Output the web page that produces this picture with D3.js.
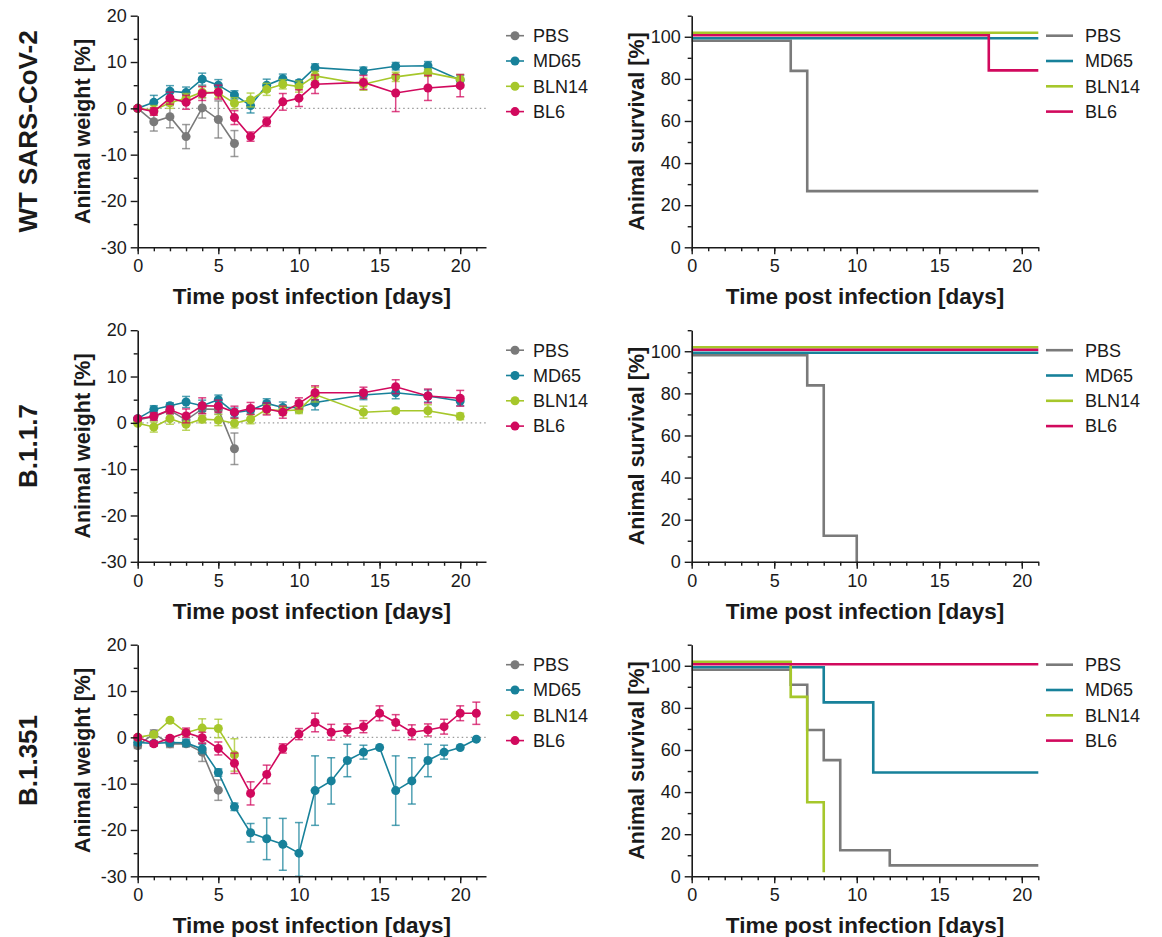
<!DOCTYPE html>
<html>
<head>
<meta charset="utf-8">
<script src="https://cdn.jsdelivr.net/npm/d3@7"></script>
<style>
  body { margin: 0; background: #fff; }
  svg { font-family: "Liberation Sans", Arial, sans-serif; }
</style>
</head>
<body>
<svg id="chart" width="1162" height="937"></svg>
<script>
const groups = ["PBS", "MD65", "BLN14", "BL6"];
const colors = ["#7a7a7a", "#17819a", "#a6c72b", "#d1095d"];
const variants = ["WT SARS-CoV-2", "B.1.1.7", "B.1.351"];

// animal weight [%], mean and error, one array per group (PBS, MD65, BLN14, BL6)
const wtDays = [0, 1, 2, 3, 4, 5, 6, 7, 8, 9, 10, 11, 14, 16, 18, 20];
const wtMean = [
  [0, -2.9, -1.8, -6.1, 0.1, -2.4, -7.6],
  [0, 1.3, 3.7, 3.4, 6.3, 5.0, 2.9, 0.6, 5.0, 6.4, 5.5, 8.8, 8.1, 9.1, 9.2, 6.1],
  [0, -0.4, 1.2, 2.2, 3.5, 3.3, 1.1, 1.8, 4.1, 5.2, 4.7, 7.0, 5.2, 6.8, 7.7, 6.3],
  [0, -0.7, 2.2, 1.3, 3.2, 3.5, -2.0, -6.1, -2.9, 1.4, 2.2, 5.2, 5.6, 3.3, 4.4, 4.9]
];
const wtErr = [
  [0, 2.0, 2.4, 2.6, 2.2, 4.0, 2.8],
  [0, 1.5, 1.2, 1.2, 1.3, 1.2, 0.9, 1.6, 1.3, 1.0, 0.6, 0.8, 0.8, 0.8, 0.9, 1.0],
  [0, 1.0, 1.2, 1.0, 1.2, 1.0, 1.2, 1.5, 1.3, 1.0, 1.2, 1.0, 1.3, 1.0, 0.8, 1.0],
  [0, 0.8, 1.3, 1.5, 1.5, 1.5, 1.5, 1.0, 1.0, 1.8, 1.8, 2.0, 1.5, 4.0, 2.7, 2.4]
];

const b117Days = [0, 1, 2, 3, 4, 5, 6, 7, 8, 9, 10, 11, 14, 16, 18, 20];
const b117Mean = [
  [0.7, 1.3, 2.7, 0.6, 3.0, 2.9, -5.6],
  [0.9, 2.9, 3.7, 4.5, 3.7, 5.0, 2.2, 2.7, 4.2, 3.3, 3.3, 4.4, 6.0, 6.5, 5.8, 4.7],
  [-0.1, -0.9, 0.9, -0.3, 0.8, 0.6, -0.1, 0.8, 2.9, 2.6, 2.8, 6.1, 2.3, 2.6, 2.6, 1.4],
  [0.9, 1.4, 2.8, 1.5, 3.7, 3.6, 2.3, 3.1, 3.0, 2.3, 4.2, 6.5, 6.5, 7.8, 5.8, 5.3]
];
const b117Err = [
  [0.4, 0.8, 0.8, 1.0, 1.0, 1.0, 3.4],
  [0.3, 0.8, 0.6, 1.2, 1.2, 1.0, 1.0, 0.8, 1.0, 1.2, 1.0, 1.6, 1.0, 1.3, 1.3, 1.0],
  [0.3, 1.1, 1.2, 1.3, 0.8, 1.2, 1.0, 1.0, 1.0, 1.0, 0.8, 1.6, 1.3, 0.5, 1.3, 0.7],
  [0.3, 0.8, 0.8, 1.5, 1.7, 1.3, 1.3, 1.3, 1.3, 1.3, 1.2, 1.5, 1.2, 1.5, 1.5, 1.7]
];

const b1351Days = [0, 1, 2, 3, 4, 5, 6, 7, 8, 9, 10, 11, 12, 13, 14, 15, 16, 17, 18, 19, 20, 21];
const b1351Mean = [
  [-1.8, 0.8, -1.4, -1.4, -3.2, -11.4],
  [-1.1, -1.3, -1.1, -1.2, -2.5, -7.6, -15.0, -20.6, -21.9, -23.1, -25.0, -11.5, -9.4, -5.0, -3.2, -2.2, -11.5, -9.4, -5.0, -3.2, -2.2, -0.4],
  [0, 0.6, 3.7, 1.0, 2.0, 1.9, -3.8],
  [0, -1.4, -0.2, 1.0, -0.1, -2.4, -5.6, -12.1, -8.0, -2.4, 0.7, 3.2, 1.1, 1.6, 2.3, 5.2, 3.2, 1.1, 1.6, 2.3, 5.2, 5.2]
];
const b1351Err = [
  [0.6, 0.8, 0.8, 0.6, 2.0, 2.2],
  [0.5, 0.5, 0.8, 0.8, 1.0, 0.8, 0.8, 2.0, 4.5, 5.6, 6.6, 7.5, 5.0, 3.5, 1.5, 0, 7.5, 5.0, 3.5, 1.5, 0, 0],
  [0, 0.6, 0.3, 0.6, 2.0, 2.0, 3.5],
  [0.3, 0.5, 0.5, 1.0, 1.2, 1.4, 2.2, 2.5, 2.0, 1.0, 1.2, 2.0, 1.7, 1.3, 1.3, 1.6, 1.7, 1.6, 1.3, 1.6, 1.6, 2.4]
];

// animal survival [%], step times and values per group
const wtSurvTime = [[0, 6, 7, 21], [0, 21], [0, 21], [0, 18, 21]];
const wtSurv = [[100, 85.7, 28.6, 28.6], [100, 100], [100, 100], [100, 83.3, 83.3]];
const b117SurvTime = [[0, 7, 8, 10], [0, 21], [0, 21], [0, 21]];
const b117Surv = [[100, 85.7, 14.3, 0], [100, 100], [100, 100], [100, 100]];
const b1351SurvTime = [[0, 6, 7, 8, 9, 12, 21], [0, 8, 11, 21], [0, 6, 7, 8], [0, 21]];
const b1351Surv = [[100, 92.9, 71.4, 57.1, 14.3, 7.1, 7.1], [100, 83.3, 50, 50], [100, 83.3, 33.3, 0], [100, 100]];

const weightTicks = [-30, -20, -10, 0, 10, 20];
const weightMinor = [-25, -15, -5, 5, 15];
const survTicks = [0, 20, 40, 60, 80, 100];
const survMinor = [10, 30, 50, 70, 90, 110];
const dayTicks = [0, 5, 10, 15, 20];

const rows = [
  {days: wtDays, mean: wtMean, err: wtErr, st: wtSurvTime, sv: wtSurv},
  {days: b117Days, mean: b117Mean, err: b117Err, st: b117SurvTime, sv: b117Surv},
  {days: b1351Days, mean: b1351Mean, err: b1351Err, st: b1351SurvTime, sv: b1351Surv}
];

// layout
const rowTop = 15.7, rowStep = 314.5, plotH = 231.6;
const wLeft = 137.7, wRight = 486, sLeft = 691.7, sRight = 1038.3;
const survNudge = [4, 1.5, -4, -1.5]; // GraphPad-style offset so overlapping curves stay visible
const ink = "#1a1a1a";

const svg = d3.select("#chart");

function styleAxis(g) {
  g.select(".domain").attr("stroke", ink).attr("stroke-width", 1.6);
  g.selectAll(".tick line").attr("stroke", ink).attr("stroke-width", 1.4);
  g.selectAll(".tick text").attr("fill", ink).style("font-size", "18px");
}

function drawAxes(g, x, y, yMajor, yMinor, xMinorMax, bottom) {
  g.append("g").attr("transform", `translate(0,${bottom})`)
    .call(d3.axisBottom(x).tickValues(d3.range(0, xMinorMax + 1)).tickSize(4).tickFormat("").tickSizeOuter(0))
    .call(a => a.select(".domain").remove())
    .call(styleAxis);
  g.append("g").attr("transform", `translate(0,${bottom})`)
    .call(d3.axisBottom(x).tickValues(dayTicks).tickSize(7).tickPadding(5).tickSizeOuter(0).tickFormat(d => String(d)))
    .call(styleAxis);
  g.append("g").attr("transform", `translate(${x.range()[0]},0)`)
    .call(d3.axisLeft(y).tickValues(yMinor).tickSize(4).tickFormat("").tickSizeOuter(0))
    .call(a => a.select(".domain").remove())
    .call(styleAxis);
  g.append("g").attr("transform", `translate(${x.range()[0]},0)`)
    .call(d3.axisLeft(y).tickValues(yMajor).tickSize(7).tickPadding(4).tickSizeOuter(0).tickFormat(d => String(d)))
    .call(styleAxis);
}

function axisTitles(g, x0, x1, top, bottom, yLabel, yTitleX) {
  g.append("text")
    .attr("x", (x0 + x1) / 2).attr("y", bottom + 57)
    .attr("text-anchor", "middle").attr("fill", ink)
    .style("font-size", "22.5px").style("font-weight", "bold")
    .text("Time post infection [days]");
  g.append("text")
    .attr("transform", `translate(${yTitleX},${(top + bottom) / 2}) rotate(-90)`)
    .attr("text-anchor", "middle").attr("dy", "0.35em").attr("fill", ink)
    .style("font-size", "21.5px").style("font-weight", "bold")
    .text(yLabel);
}

rows.forEach((r, ri) => {
  const top = rowTop + ri * rowStep, bottom = top + plotH;
  const g = svg.append("g");

  // row label
  g.append("text")
    .attr("transform", `translate(28,${(top + bottom) / 2}) rotate(-90)`)
    .attr("text-anchor", "middle").attr("dy", "0.35em").attr("fill", ink)
    .style("font-size", "26px").style("font-weight", "bold")
    .text(variants[ri]);

  // ---------- weight ----------
  const x = d3.scaleLinear().domain([0, 21.6]).range([wLeft, wRight]);
  const y = d3.scaleLinear().domain([-30, 20]).range([bottom, top]).clamp(true);

  g.append("line")
    .attr("x1", x(0)).attr("x2", x(21.6)).attr("y1", y(0)).attr("y2", y(0))
    .attr("stroke", "#9a9a9a").attr("stroke-width", 1.2).attr("stroke-dasharray", "1.5,3");

  const line = d3.line().x(d => x(d[0])).y(d => y(d[1]));

  r.mean.forEach((m, gi) => {
    const pts = m.map((v, i) => [r.days[i], v, r.err[gi][i]]);
    const sg = g.append("g");
    sg.append("path").datum(pts).attr("d", line)
      .attr("fill", "none").attr("stroke", colors[gi]).attr("stroke-width", 1.6);
    const eb = sg.selectAll("g.eb").data(pts.filter(d => d[2] > 0)).join("g")
      .attr("stroke", colors[gi]).attr("stroke-opacity", 0.75).attr("stroke-width", 1.5);
    eb.append("line").attr("x1", d => x(d[0])).attr("x2", d => x(d[0]))
      .attr("y1", d => y(d[1] - d[2])).attr("y2", d => y(d[1] + d[2]));
    eb.append("line").attr("x1", d => x(d[0]) - 4).attr("x2", d => x(d[0]) + 4)
      .attr("y1", d => y(d[1] - d[2])).attr("y2", d => y(d[1] - d[2]));
    eb.append("line").attr("x1", d => x(d[0]) - 4).attr("x2", d => x(d[0]) + 4)
      .attr("y1", d => y(d[1] + d[2])).attr("y2", d => y(d[1] + d[2]));
    sg.selectAll("circle").data(pts).join("circle")
      .attr("cx", d => x(d[0])).attr("cy", d => y(d[1])).attr("r", 4.5)
      .attr("fill", colors[gi]);
  });

  drawAxes(g, x, y, weightTicks, weightMinor, 21, bottom);
  axisTitles(g, wLeft, wRight, top, bottom, "Animal weight [%]", 82);

  // weight legend
  groups.forEach((name, gi) => {
    const ly = top + 20 + gi * 25.3;
    g.append("line").attr("x1", 506).attr("x2", 524).attr("y1", ly).attr("y2", ly)
      .attr("stroke", colors[gi]).attr("stroke-width", 1.6);
    g.append("circle").attr("cx", 515).attr("cy", ly).attr("r", 4.5).attr("fill", colors[gi]);
    g.append("text").attr("x", 533).attr("y", ly).attr("dy", "0.35em")
      .attr("fill", ink).style("font-size", "18px").text(name);
  });

  // ---------- survival ----------
  const sx = d3.scaleLinear().domain([0, 21]).range([sLeft, sRight]);
  const sy = d3.scaleLinear().domain([0, 110]).range([bottom, top]);

  r.st.forEach((ts, gi) => {
    const pts = ts.map((t, i) => [t, r.sv[gi][i]]);
    const sline = d3.line().curve(d3.curveStepAfter)
      .x(d => sx(d[0])).y(d => Math.min(sy(d[1]) + survNudge[gi], bottom));
    g.append("path").datum(pts).attr("d", sline)
      .attr("fill", "none").attr("stroke", colors[gi]).attr("stroke-width", 2.6);
  });

  drawAxes(g, sx, sy, survTicks, survMinor, 21, bottom);
  axisTitles(g, sLeft, sRight, top, bottom, "Animal survival [%]", 636);

  groups.forEach((name, gi) => {
    const ly = top + 20 + gi * 25.3;
    g.append("line").attr("x1", 1046).attr("x2", 1073).attr("y1", ly).attr("y2", ly)
      .attr("stroke", colors[gi]).attr("stroke-width", 2.6);
    g.append("text").attr("x", 1085).attr("y", ly).attr("dy", "0.35em")
      .attr("fill", ink).style("font-size", "18px").text(name);
  });
});
</script>
</body>
</html>
